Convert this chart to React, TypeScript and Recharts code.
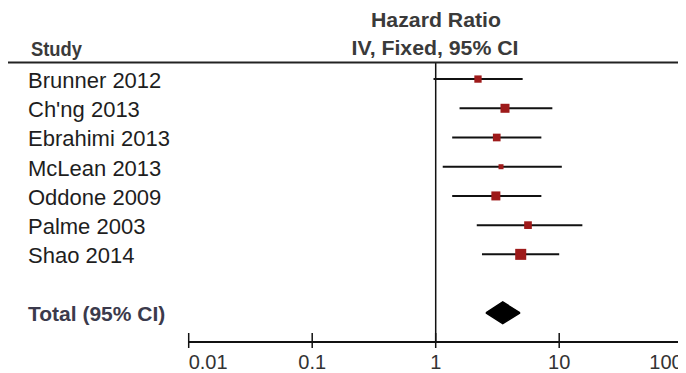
import React from "react";
import { ComposedChart, Scatter, Area, XAxis, YAxis, ReferenceLine, ErrorBar } from "recharts";

const studies = [
  "Brunner 2012",
  "Ch'ng 2013",
  "Ebrahimi 2013",
  "McLean 2013",
  "Oddone 2009",
  "Palme 2003",
  "Shao 2014",
];
const hazardRatio = [2.2, 3.64, 3.12, 3.38, 3.07, 5.59, 4.88];
const ciLow = [0.96, 1.56, 1.36, 1.14, 1.36, 2.15, 2.37];
const ciHigh = [5.06, 8.8, 7.17, 10.5, 7.17, 15.4, 10.0];
const weights = [11.1, 16.9, 12.3, 5.2, 16.9, 12.3, 25.3];

const totalLabel = "Total (95% CI)";
const totalHR = 3.49;
const totalLow = 2.55;
const totalHigh = 4.82;

const xTicks = [0.01, 0.1, 1, 10, 100];
const xTickLabels = ["0.01", "0.1", "1", "10", "100"];

const TOTAL_ROW = studies.length + 1;
const DIAMOND_HALF = 0.37; // in row units
const FONT = "'Liberation Sans', Arial, sans-serif";

const rows = studies.map((name, i) => ({
  name,
  x: hazardRatio[i],
  y: i,
  w: weights[i],
  err: [hazardRatio[i] - ciLow[i], ciHigh[i] - hazardRatio[i]],
}));

const diamond = [
  { x: totalLow, band: [TOTAL_ROW, TOTAL_ROW] },
  { x: totalHR, band: [TOTAL_ROW - DIAMOND_HALF, TOTAL_ROW + DIAMOND_HALF] },
  { x: totalHigh, band: [TOTAL_ROW, TOTAL_ROW] },
];

const yTicks = [...studies.map((_, i) => i), TOTAL_ROW];

const StudyTick = (props: any) => {
  const { y, payload } = props;
  if (payload.value === TOTAL_ROW) {
    return (
      <text x={20} y={y} dy={8} fontFamily={FONT} fontSize={21} fontWeight="bold" fill="#3b3a4c">
        {totalLabel}
      </text>
    );
  }
  return (
    <text x={20} y={y} dy={9} fontFamily={FONT} fontSize={22} fill="#1e1e1e">
      {studies[payload.value]}
    </text>
  );
};

const ScaleTick = (props: any) => {
  const { x, y, payload } = props;
  const v = payload.value;
  const i = xTicks.findIndex((t) => Math.abs(Math.log10(t) - Math.log10(v)) < 0.01);
  const anchor = i === 0 ? "start" : i === xTicks.length - 1 ? "end" : "middle";
  return (
    <g>
      <line x1={x} x2={x} y1={y - 9} y2={y + 6} stroke="#111" strokeWidth={1.5} />
      <text x={x} y={y + 27} textAnchor={anchor} fontFamily={FONT} fontSize={20} fill="#333">
        {xTickLabels[i]}
      </text>
    </g>
  );
};

const Square = (props: any) => {
  const { cx, cy, payload } = props;
  const s = 2.19 * Math.sqrt(payload.w);
  return <rect x={cx - s / 2} y={cy - s / 2} width={s} height={s} fill="#9e1a1a" />;
};

export default function App() {
  return (
    <div style={{ position: "relative", width: 678, height: 365 }}>
      <ComposedChart
        width={678}
        height={365}
        data={diamond}
        margin={{ top: 55, right: 3.3, bottom: 0, left: 8.7 }}
      >
        <XAxis
          dataKey="x"
          type="number"
          scale="log"
          domain={[0.01, 100]}
          allowDataOverflow
          ticks={xTicks}
          interval={0}
          tickSize={0}
          tickMargin={0}
          tickLine={false}
          axisLine={{ stroke: "#111", strokeWidth: 2 }}
          height={31}
          tick={<ScaleTick />}
        />
        <YAxis
          dataKey="y"
          type="number"
          domain={[-0.55, 9.0]}
          allowDataOverflow
          reversed
          ticks={yTicks}
          interval={0}
          width={172}
          axisLine={false}
          tickLine={false}
          tick={<StudyTick />}
        />
        <ReferenceLine x={1} stroke="#111" strokeWidth={1.5} />
        <Area
          dataKey="band"
          type="linear"
          stroke="#000"
          strokeWidth={1.5}
          fill="#000"
          fillOpacity={1}
          dot={false}
          activeDot={false}
          isAnimationActive={false}
        />
        <Scatter data={rows} shape={<Square />} isAnimationActive={false}>
          <ErrorBar dataKey="err" direction="x" width={0} stroke="#111" strokeWidth={2} />
        </Scatter>
      </ComposedChart>
      <svg
        width={678}
        height={365}
        style={{ position: "absolute", left: 0, top: 0, pointerEvents: "none" }}
      >
        <text x={428} y={19} textAnchor="middle" fontFamily={FONT} fontSize={21} fontWeight="bold" fill="#3a3a3a" textLength={130} lengthAdjust="spacingAndGlyphs">
          Hazard Ratio
        </text>
        <text x={427} y={47} textAnchor="middle" fontFamily={FONT} fontSize={21} fontWeight="bold" fill="#3a3a3a" textLength={167} lengthAdjust="spacingAndGlyphs">
          IV, Fixed, 95% CI
        </text>
        <text x={23} y={48} fontFamily={FONT} fontSize={20.5} fontWeight="bold" fill="#3a3a3a" textLength={51} lengthAdjust="spacingAndGlyphs">
          Study
        </text>
        <line x1={0} x2={678} y1={54.5} y2={54.5} stroke="#222" strokeWidth={1.8} />
      </svg>
    </div>
  );
}
